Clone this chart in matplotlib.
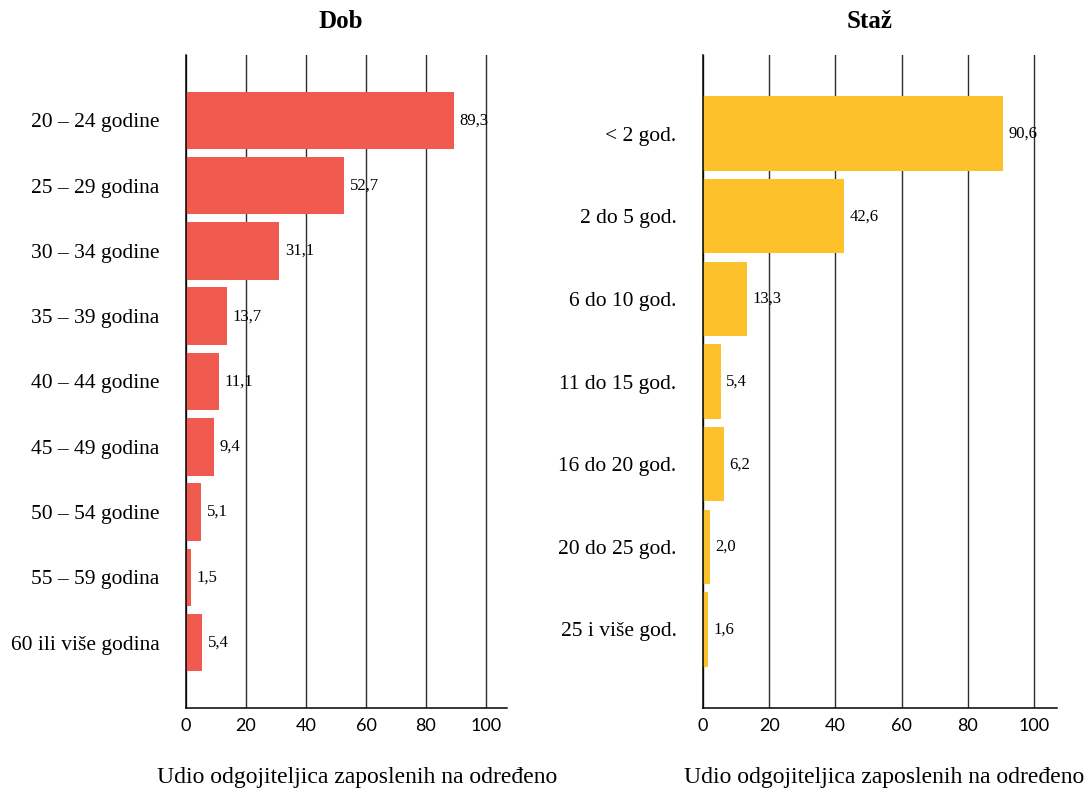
import matplotlib.pyplot as plt

SERIF = 'Liberation Serif'
SANS = 'Lato'

DOB_LABELS = ['20 – 24 godine', '25 – 29 godina', '30 – 34 godine', '35 – 39 godina',
              '40 – 44 godine', '45 – 49 godina', '50 – 54 godine', '55 – 59 godina',
              '60 ili više godina']
DOB_VALUES = [89.3, 52.7, 31.1, 13.7, 11.1, 9.4, 5.1, 1.5, 5.4]

STAZ_LABELS = ['< 2 god.', '2 do 5 god.', '6 do 10 god.', '11 do 15 god.',
               '16 do 20 god.', '20 do 25 god.', '25 i više god.']
STAZ_VALUES = [90.6, 42.6, 13.3, 5.4, 6.2, 2.0, 1.6]

XTICKS = [0, 20, 40, 60, 80, 100]
XLABEL = 'Udio odgojiteljica zaposlenih na određeno'

RED = '#F05A4F'
YELLOW = '#FDC22B'

W, H = 1089, 790


def fmt(v):
    return ('%.1f' % v).replace('.', ',')


def panel(fig, rect, labels, values, color, height, ylim):
    ax = fig.add_axes(rect)
    pos = list(range(len(labels)))
    ax.barh(pos, values, height=height, color=color, zorder=2)
    for p, v in zip(pos, values):
        ax.annotate(fmt(v), (v, p), xytext=(4, 0), textcoords='offset points',
                    va='center', ha='left', fontsize=12, family=SERIF, zorder=3)
    ax.set_xlim(0, 107)
    ax.set_ylim(*ylim)
    ax.set_xticks(XTICKS)
    ax.set_xticklabels([str(t) for t in XTICKS], family=SANS, fontsize=13)
    ax.set_yticks(pos)
    ax.set_yticklabels(labels, family=SERIF, fontsize=15.5)
    ax.tick_params(axis='both', length=0)
    ax.tick_params(axis='x', pad=7)
    ax.tick_params(axis='y', pad=19)
    ax.grid(axis='x', color='#2e2e2e', linewidth=1.0, zorder=1)
    ax.grid(axis='y', visible=False)
    for s in ['top', 'right']:
        ax.spines[s].set_visible(False)
    for s in ['left', 'bottom']:
        ax.spines[s].set_color('black')
        ax.spines[s].set_linewidth(1.1)
        ax.spines[s].set_zorder(4)
    return ax


fig = plt.figure(figsize=(W / 100, H / 100), dpi=100)

bottom = 1 - 708 / H
top = 1 - 55 / H
panel(fig, [186 / W, bottom, (507 - 186) / W, top - bottom],
      DOB_LABELS, DOB_VALUES, RED, 0.88, (9.0, -1.0))
panel(fig, [703 / W, bottom, (1057 - 703) / W, top - bottom],
      STAZ_LABELS, STAZ_VALUES, YELLOW, 0.9, (6.95, -0.95))

fig.text(341 / W, 1 - 22 / H, 'Dob', ha='center', va='center',
         family=SERIF, fontweight='bold', fontsize=18)
fig.text(870 / W, 1 - 22 / H, 'Staž', ha='center', va='center',
         family=SERIF, fontweight='bold', fontsize=18)
fig.text(357 / W, 1 - 778 / H, XLABEL, ha='center', va='center',
         family=SERIF, fontsize=17)
fig.text(884 / W, 1 - 778 / H, XLABEL, ha='center', va='center',
         family=SERIF, fontsize=17)

plt.savefig('out.png', dpi=100)
